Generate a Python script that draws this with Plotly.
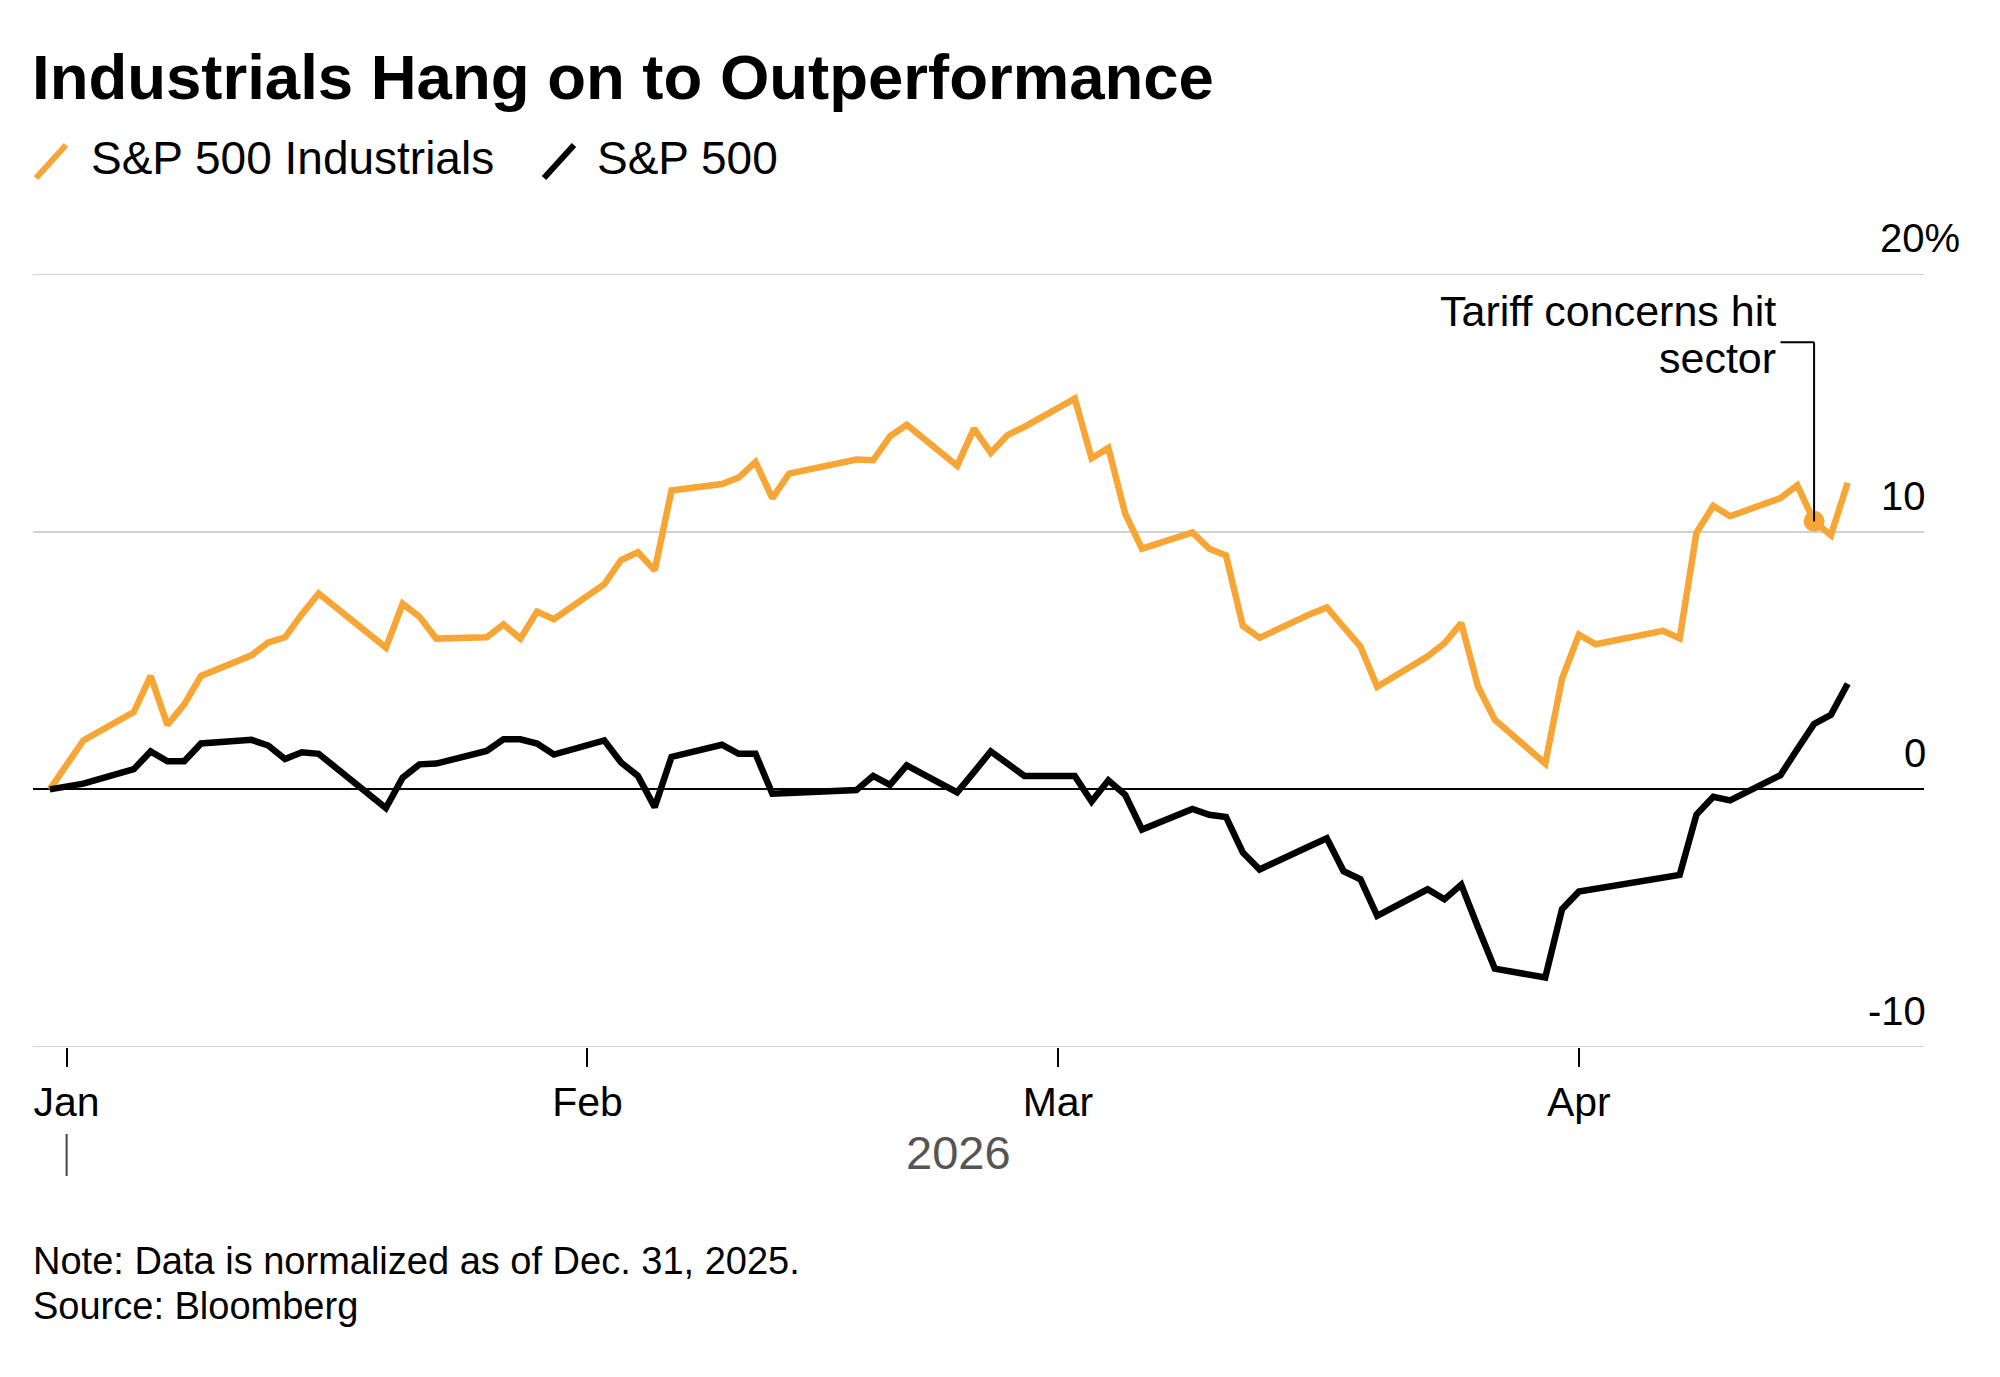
import plotly.graph_objects as go

# ---- data ----
dates = [
    "2025-12-31",
    "2026-01-02", "2026-01-05", "2026-01-06", "2026-01-07", "2026-01-08", "2026-01-09",
    "2026-01-12", "2026-01-13", "2026-01-14", "2026-01-15", "2026-01-16",
    "2026-01-20", "2026-01-21", "2026-01-22", "2026-01-23",
    "2026-01-26", "2026-01-27", "2026-01-28", "2026-01-29", "2026-01-30",
    "2026-02-02", "2026-02-03", "2026-02-04", "2026-02-05", "2026-02-06",
    "2026-02-09", "2026-02-10", "2026-02-11", "2026-02-12", "2026-02-13",
    "2026-02-17", "2026-02-18", "2026-02-19", "2026-02-20",
    "2026-02-23", "2026-02-24", "2026-02-25", "2026-02-26", "2026-02-27",
    "2026-03-02", "2026-03-03", "2026-03-04", "2026-03-05", "2026-03-06",
    "2026-03-09", "2026-03-10", "2026-03-11", "2026-03-12", "2026-03-13",
    "2026-03-16", "2026-03-17", "2026-03-18", "2026-03-19", "2026-03-20",
    "2026-03-23", "2026-03-24", "2026-03-25", "2026-03-26", "2026-03-27",
    "2026-03-30", "2026-03-31", "2026-04-01", "2026-04-02",
    "2026-04-06", "2026-04-07", "2026-04-08", "2026-04-09", "2026-04-10",
    "2026-04-13", "2026-04-14", "2026-04-15", "2026-04-16", "2026-04-17",
]

industrials = [
    0.0,
    1.9, 3.0, 4.4, 2.5, 3.3, 4.4,
    5.2, 5.7, 5.9, 6.8, 7.6,
    5.5, 7.2, 6.7, 5.85,
    5.9, 6.4, 5.85, 6.9, 6.6,
    7.96, 8.9, 9.2, 8.5, 11.6,
    11.85, 12.1, 12.7, 11.3, 12.25,
    12.8, 12.77, 13.7, 14.15,
    12.56, 14.0, 13.06, 13.75, 14.07,
    15.16, 12.85, 13.25, 10.7, 9.34,
    9.97, 9.34, 9.08, 6.35, 5.88,
    6.8, 7.06, 6.3, 5.54, 3.98,
    5.16, 5.67, 6.45, 3.98, 2.7,
    1.0, 4.3, 6.0, 5.63,
    6.15, 5.86, 9.96, 11.0, 10.6,
    11.3, 11.8, 10.4, 9.86, 11.9,
]

sp500 = [
    0.0,
    0.22, 0.78, 1.47, 1.09, 1.09, 1.78,
    1.92, 1.70, 1.18, 1.44, 1.38,
    -0.73, 0.45, 0.97, 1.0,
    1.49, 1.94, 1.94, 1.78, 1.35,
    1.9, 1.04, 0.52, -0.69, 1.26,
    1.73, 1.38, 1.38, -0.17, -0.14,
    -0.03, 0.52, 0.17, 0.93,
    -0.12, 0.67, 1.47, 1.0, 0.52,
    0.52, -0.47, 0.35, -0.21, -1.56,
    -0.76, -0.99, -1.07, -2.45, -3.11,
    -2.2, -1.9, -3.18, -3.49, -4.91,
    -3.88, -4.27, -3.70, -5.36, -6.96,
    -7.3, -4.65, -3.97, -3.87,
    -3.46, -3.32, -0.98, -0.29, -0.43,
    0.55, 1.56, 2.54, 2.89, 4.1,
]

series_names = ["S&P 500 Industrials", "S&P 500"]
month_ticks = ["2026-01-01", "2026-02-01", "2026-03-01", "2026-04-01"]
month_labels = ["Jan", "Feb", "Mar", "Apr"]
y_ticks = [-10, 0, 10, 20]
y_labels = ["-10", "0", "10", "20%"]

annot_date = "2026-04-15"
annot_value = 10.4
annot_text = ["Tariff concerns hit", "sector"]

title = "Industrials Hang on to Outperformance"
note = "Note: Data is normalized as of Dec. 31, 2025."
source = "Source: Bloomberg"

# ---- style ----
ORANGE = "#F7A535"
FONT = "Liberation Sans, Arial, Helvetica, sans-serif"

fig = go.Figure()
fig.add_trace(go.Scatter(x=dates, y=industrials, mode="lines", name=series_names[0],
                         line=dict(color=ORANGE, width=6.5), showlegend=False))
fig.add_trace(go.Scatter(x=dates, y=sp500, mode="lines", name=series_names[1],
                         line=dict(color="#000000", width=6.5), showlegend=False))
# annotation marker
fig.add_trace(go.Scatter(x=[annot_date], y=[annot_value], mode="markers",
                         marker=dict(color=ORANGE, size=21), showlegend=False,
                         hoverinfo="skip"))

W, H = 2000, 1377
L, R, T, B = 33, 76, 274, 330
plot_h = H - T - B

def py(px_y):
    """convert absolute pixel y (from top) to paper y"""
    return (H - B - px_y) / plot_h

def pxx(px_x):
    return (px_x - L) / (W - L - R)

annotations = []
# title
annotations.append(dict(text="<b>" + title + "</b>", xref="paper", yref="paper",
                        x=pxx(30), y=py(77), xanchor="left", yanchor="middle",
                        showarrow=False, font=dict(size=63.5, color="#000", family=FONT)))
# legend texts
annotations.append(dict(text=series_names[0], xref="paper", yref="paper",
                        x=pxx(89), y=py(158), xanchor="left", yanchor="middle",
                        showarrow=False, font=dict(size=46, color="#000", family=FONT)))
annotations.append(dict(text=series_names[1], xref="paper", yref="paper",
                        x=pxx(595), y=py(158), xanchor="left", yanchor="middle",
                        showarrow=False, font=dict(size=46, color="#000", family=FONT)))
# y labels above gridlines, right aligned
for v, lab in zip(y_ticks, y_labels):
    xs = 38 if lab.endswith("%") else 4
    annotations.append(dict(text=lab, xref="paper", yref="y", x=1, y=v,
                            xanchor="right", yanchor="bottom", yshift=12, xshift=xs,
                            showarrow=False, font=dict(size=40, color="#000", family=FONT)))
# year label
annotations.append(dict(text="2026", xref="paper", yref="paper", x=pxx(958), y=py(1152),
                        xanchor="center", yanchor="middle", showarrow=False,
                        font=dict(size=47, color="#555555", family=FONT)))
# annotation text
annotations.append(dict(text=annot_text[0], xref="x", yref="y", x="2026-04-12 20:00", y=18.57,
                        xanchor="right", yanchor="middle", showarrow=False,
                        font=dict(size=43, color="#000", family=FONT)))
annotations.append(dict(text=annot_text[1], xref="x", yref="y", x="2026-04-12 20:00", y=16.74,
                        xanchor="right", yanchor="middle", showarrow=False,
                        font=dict(size=43, color="#000", family=FONT)))
# note / source
annotations.append(dict(text=note, xref="paper", yref="paper", x=pxx(31), y=py(1261),
                        xanchor="left", yanchor="middle", showarrow=False,
                        font=dict(size=38, color="#000", family=FONT)))
annotations.append(dict(text=source, xref="paper", yref="paper", x=pxx(31), y=py(1306),
                        xanchor="left", yanchor="middle", showarrow=False,
                        font=dict(size=38, color="#000", family=FONT)))

shapes = []
# top / bottom gridlines at the range edges
for v in (20, -10):
    shapes.append(dict(type="line", xref="paper", yref="y", x0=0, x1=1, y0=v, y1=v,
                       line=dict(color="#d2d2d2", width=2), layer="below"))
# legend slashes
shapes.append(dict(type="line", xref="paper", yref="paper", x0=pxx(36), y0=py(178),
                   x1=pxx(66), y1=py(145), line=dict(color=ORANGE, width=6)))
shapes.append(dict(type="line", xref="paper", yref="paper", x0=pxx(544), y0=py(178),
                   x1=pxx(574), y1=py(145), line=dict(color="#000", width=6)))
# year separator tick under Jan
shapes.append(dict(type="line", xref="x", yref="paper", x0=month_ticks[0], x1=month_ticks[0],
                   y0=py(1134), y1=py(1176), line=dict(color="#444", width=2)))
# annotation connector
shapes.append(dict(type="line", xref="x", yref="y", x0="2026-04-13 00:00", x1=annot_date,
                   y0=17.35, y1=17.35, line=dict(color="#000", width=2)))
shapes.append(dict(type="line", xref="x", yref="y", x0=annot_date, x1=annot_date,
                   y0=17.35, y1=annot_value, line=dict(color="#000", width=2)))

fig.update_layout(
    width=W, height=H,
    margin=dict(l=L, r=R, t=T, b=B, pad=0),
    paper_bgcolor="white", plot_bgcolor="white",
    font=dict(family=FONT, color="#000"),
    annotations=annotations, shapes=shapes,
    showlegend=False,
    xaxis=dict(type="date", range=["2025-12-30 00:00", "2026-04-21 13:00"],
               tickvals=month_ticks, ticktext=month_labels,
               ticks="outside", ticklen=19, tickwidth=2, tickcolor="#000",
               tickfont=dict(size=41, color="#000", family=FONT),
               showgrid=False, zeroline=False, showline=False, fixedrange=True),
    yaxis=dict(range=[-10, 20], tickvals=y_ticks, showticklabels=False,
               showgrid=True, gridcolor="#d2d2d2", gridwidth=2,
               zeroline=True, zerolinecolor="#000", zerolinewidth=2,
               showline=False, ticks="", fixedrange=True),
)

fig.write_html("out.html", config={"displayModeBar": False},
               post_script="document.body.style.margin='0';document.body.style.overflow='hidden';")
